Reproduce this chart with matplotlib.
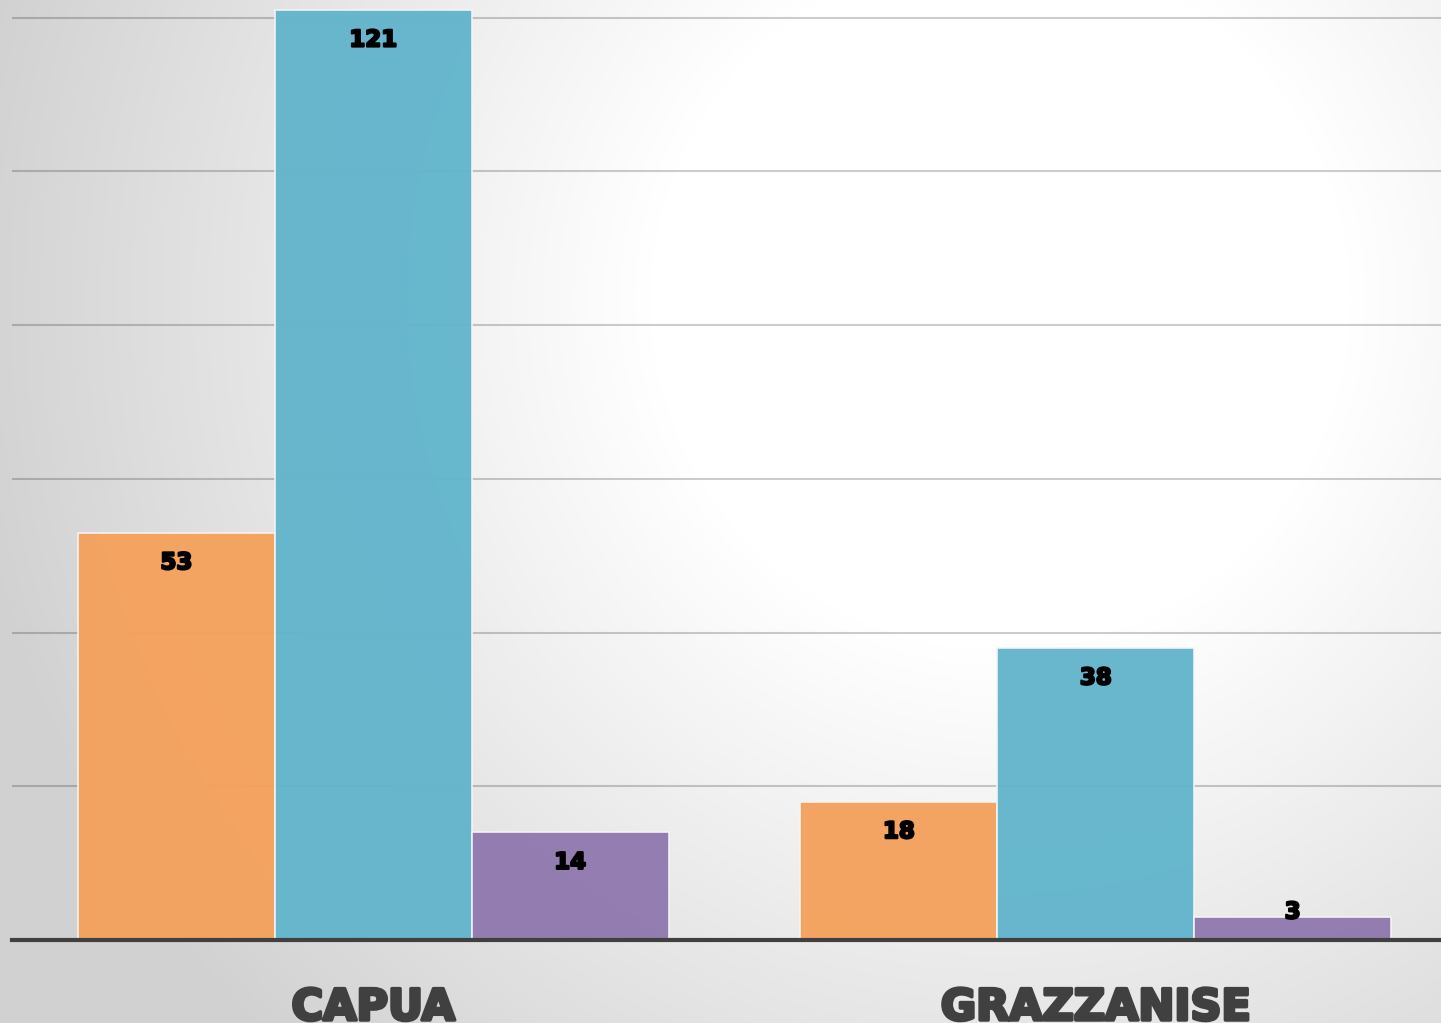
import numpy as np
import matplotlib
matplotlib.use("Agg")
import matplotlib.pyplot as plt
import matplotlib.patheffects as pe

categories = ["CAPUA", "GRAZZANISE"]
series_a = [53, 18]
series_b = [121, 38]
series_c = [14, 3]
colors = ["#F5A25D", "#63B5CC", "#917AAF"]

W, H = 1441, 1023
fig = plt.figure(figsize=(W / 100, H / 100), dpi=100)

# radial gradient background
bg = fig.add_axes([0, 0, 1, 1])
yy, xx = np.mgrid[0:H, 0:W]
r = np.sqrt((xx - 1000) ** 2 + (yy - 300) ** 2)
t = np.clip((r - 350) / 700, 0, 1)
v = 1.0 - t * (1.0 - 0.82)
bg.imshow(np.dstack([v, v, v]), extent=[0, W, H, 0], aspect="auto", interpolation="bilinear")
bg.set_axis_off()

ax = fig.add_axes([12 / W, (H - 940) / H, 1 - 12 / W, 940 / H])
ax.patch.set_alpha(0)
x = np.arange(len(categories))
w = 0.2725
ppu = 930 / 121.0
ymax = 940 / ppu
for i, (vals, c) in enumerate(zip([series_a, series_b, series_c], colors)):
    pos = x + (i - 1) * w
    ax.bar(pos, vals, width=w, color=c, edgecolor="#f4f4f4", linewidth=1.2, zorder=3, alpha=0.97)
    for p, val in zip(pos, vals):
        yl = max(val - 30 / ppu, 28 / ppu)
        ax.text(p, yl, str(val), ha="center", va="center", fontsize=16.5,
                fontweight="bold", family="DejaVu Sans", color="black", zorder=5,
                path_effects=[pe.withStroke(linewidth=1.6, foreground="black")])

ax.set_xlim(-0.5, (W - 372.5) / 723)
ax.set_ylim(0, ymax)
ax.set_yticks([20, 40, 60, 80, 100, 120])
ax.yaxis.grid(True, color="black", alpha=0.2, linewidth=1.5, zorder=0)
ax.set_axisbelow(True)
for s in ["top", "right", "left"]:
    ax.spines[s].set_visible(False)
ax.spines["bottom"].set_color("#404040")
ax.spines["bottom"].set_linewidth(3)
ax.spines["bottom"].set_zorder(6)
ax.tick_params(left=False, labelleft=False, bottom=False, labelbottom=False)

for i, cat in enumerate(categories):
    ax.annotate(cat, xy=(i, 0), xycoords=("data", "axes fraction"),
                xytext=(0, -80 * 0.72), textcoords="offset points",
                ha="center", va="baseline", fontsize=31, fontweight="bold",
                family="DejaVu Sans", color="#404040", annotation_clip=False,
                path_effects=[pe.withStroke(linewidth=2.5, foreground="#404040")])

fig.savefig("out.png", dpi=100)
